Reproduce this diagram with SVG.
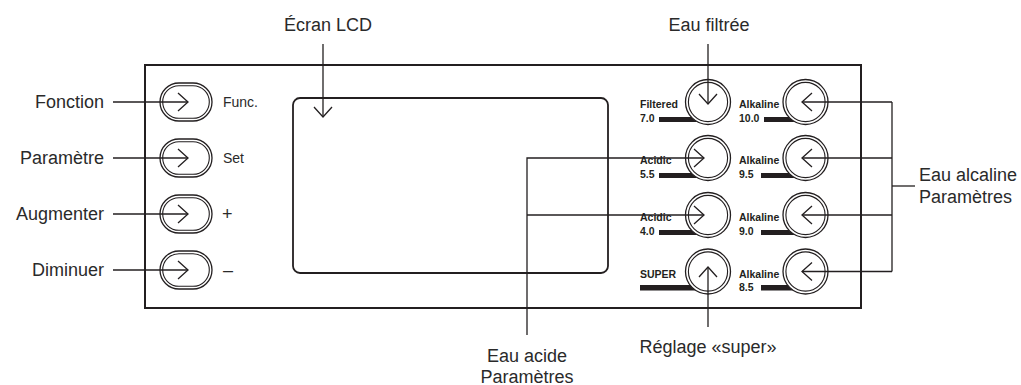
<svg xmlns="http://www.w3.org/2000/svg" width="1021" height="385" viewBox="0 0 1021 385">
<style>
text { font-family: "Liberation Sans", Arial, sans-serif; fill: #231f20; }
.lbl { font-size: 18px; fill: #2a2a2a; }
.sm { font-size: 14px; fill: #2a2a2a; }
.b { font-size: 10.5px; font-weight: bold; }
.panel { fill: none; stroke: #231f20; stroke-width: 2; }
.lcd { fill: none; stroke: #231f20; stroke-width: 1.8; }
.ring { fill: #fff; stroke: #231f20; stroke-width: 1.3; }
.ring2 { fill: none; stroke: #231f20; stroke-width: 1.1; }
.bar { fill: #231f20; }
.conn { fill: none; stroke: #231f20; stroke-width: 1.3; }
</style>
<defs>
<marker id="chev" markerUnits="userSpaceOnUse" viewBox="-12 -12 24 24" markerWidth="24" markerHeight="24" refX="0" refY="0" orient="auto" overflow="visible">
<path d="M-10,-9 L0,0 L-10,9" fill="none" stroke="#231f20" stroke-width="1.3"/>
</marker>
</defs>

<g id="panel">
<rect class="panel" x="145" y="65" width="716" height="243"/>
</g>
<g id="lcd">
<rect class="lcd" x="293" y="98" width="315" height="175" rx="7"/>
</g>

<g id="btn-func">
<rect class="ring" x="160" y="83" width="52" height="38" rx="19"/>
<rect class="ring2" x="162.7" y="85.7" width="46.6" height="32.6" rx="16.3"/>
<text class="sm" x="223" y="107">Func.</text>
</g>
<g id="btn-set">
<rect class="ring" x="160" y="139" width="52" height="38" rx="19"/>
<rect class="ring2" x="162.7" y="141.7" width="46.6" height="32.6" rx="16.3"/>
<text class="sm" x="223" y="163">Set</text>
</g>
<g id="btn-plus">
<rect class="ring" x="160" y="195" width="52" height="38" rx="19"/>
<rect class="ring2" x="162.7" y="197.7" width="46.6" height="32.6" rx="16.3"/>
<text class="lbl" x="222" y="220">+</text>
</g>
<g id="btn-minus">
<rect class="ring" x="160" y="251" width="52" height="38" rx="19"/>
<rect class="ring2" x="162.7" y="253.7" width="46.6" height="32.6" rx="16.3"/>
<text class="lbl" x="223" y="276">–</text>
</g>

<g id="btn-filtered">
<rect class="bar" x="659" y="117" width="49" height="5"/>
<circle class="ring" cx="708" cy="102" r="22.5"/>
<circle class="ring2" cx="708" cy="102" r="19.6"/>
<text class="b" x="640" y="108">Filtered</text>
<text class="b" x="640" y="122">7.0</text>
</g>
<g id="btn-acidic55">
<rect class="bar" x="659" y="173" width="49" height="5"/>
<circle class="ring" cx="708" cy="158" r="22.5"/>
<circle class="ring2" cx="708" cy="158" r="19.6"/>
<text class="b" x="640" y="164">Acidic</text>
<text class="b" x="640" y="178">5.5</text>
</g>
<g id="btn-acidic40">
<rect class="bar" x="659" y="230" width="49" height="5"/>
<circle class="ring" cx="708" cy="215" r="22.5"/>
<circle class="ring2" cx="708" cy="215" r="19.6"/>
<text class="b" x="640" y="221">Acidic</text>
<text class="b" x="640" y="235">4.0</text>
</g>
<g id="btn-super">
<rect class="bar" x="640" y="285" width="68" height="5.5"/>
<circle class="ring" cx="708" cy="271.5" r="22.5"/>
<circle class="ring2" cx="708" cy="271.5" r="19.6"/>
<text class="b" x="640" y="278">SUPER</text>
</g>

<g id="btn-alk100">
<rect class="bar" x="764" y="117" width="42" height="5"/>
<circle class="ring" cx="805.5" cy="102" r="22.5"/>
<circle class="ring2" cx="805.5" cy="102" r="19.6"/>
<text class="b" x="739" y="108">Alkaline</text>
<text class="b" x="739" y="122">10.0</text>
</g>
<g id="btn-alk95">
<rect class="bar" x="761" y="173" width="45" height="5"/>
<circle class="ring" cx="805.5" cy="158" r="22.5"/>
<circle class="ring2" cx="805.5" cy="158" r="19.6"/>
<text class="b" x="739" y="164">Alkaline</text>
<text class="b" x="739" y="178">9.5</text>
</g>
<g id="btn-alk90">
<rect class="bar" x="761" y="230" width="45" height="5"/>
<circle class="ring" cx="805.5" cy="215" r="22.5"/>
<circle class="ring2" cx="805.5" cy="215" r="19.6"/>
<text class="b" x="739" y="221">Alkaline</text>
<text class="b" x="739" y="235">9.0</text>
</g>
<g id="btn-alk85">
<rect class="bar" x="761" y="285" width="45" height="5.5"/>
<circle class="ring" cx="805.5" cy="271.5" r="22.5"/>
<circle class="ring2" cx="805.5" cy="271.5" r="19.6"/>
<text class="b" x="739" y="278">Alkaline</text>
<text class="b" x="739" y="291">8.5</text>
</g>

<g id="labels">
<text class="lbl" x="104" y="107.5" text-anchor="end">Fonction</text>
<text class="lbl" x="104" y="163.5" text-anchor="end">Paramètre</text>
<text class="lbl" x="104" y="219.5" text-anchor="end">Augmenter</text>
<text class="lbl" x="104" y="275.5" text-anchor="end">Diminuer</text>
<text class="lbl" x="328" y="31" text-anchor="middle">Écran LCD</text>
<text class="lbl" x="709" y="31" text-anchor="middle">Eau filtrée</text>
<text class="lbl" x="919" y="181">Eau alcaline</text>
<text class="lbl" x="919" y="203">Paramètres</text>
<text class="lbl" x="527" y="362" text-anchor="middle">Eau acide</text>
<text class="lbl" x="527" y="383" text-anchor="middle">Paramètres</text>
<text class="lbl" x="708" y="353" text-anchor="middle">Réglage «super»</text>
</g>

<g id="connectors">
<path class="conn" d="M113,102 H188" marker-end="url(#chev)"/>
<path class="conn" d="M113,158 H188" marker-end="url(#chev)"/>
<path class="conn" d="M113,214 H188" marker-end="url(#chev)"/>
<path class="conn" d="M113,270 H188" marker-end="url(#chev)"/>
<path class="conn" d="M323,44 V117" marker-end="url(#chev)"/>
<path class="conn" d="M708,44 V104" marker-end="url(#chev)"/>
<path class="conn" d="M708,327 V267" marker-end="url(#chev)"/>
<path class="conn" d="M527,335 V158 H704" marker-end="url(#chev)"/>
<path class="conn" d="M527,215 H704" marker-end="url(#chev)"/>
<path class="conn" d="M915,186 H892"/>
<path class="conn" d="M892,102 V271.5"/>
<path class="conn" d="M892,102 H802" marker-end="url(#chev)"/>
<path class="conn" d="M892,158 H802" marker-end="url(#chev)"/>
<path class="conn" d="M892,215 H802" marker-end="url(#chev)"/>
<path class="conn" d="M892,271.5 H802" marker-end="url(#chev)"/>
</g>
</svg>
